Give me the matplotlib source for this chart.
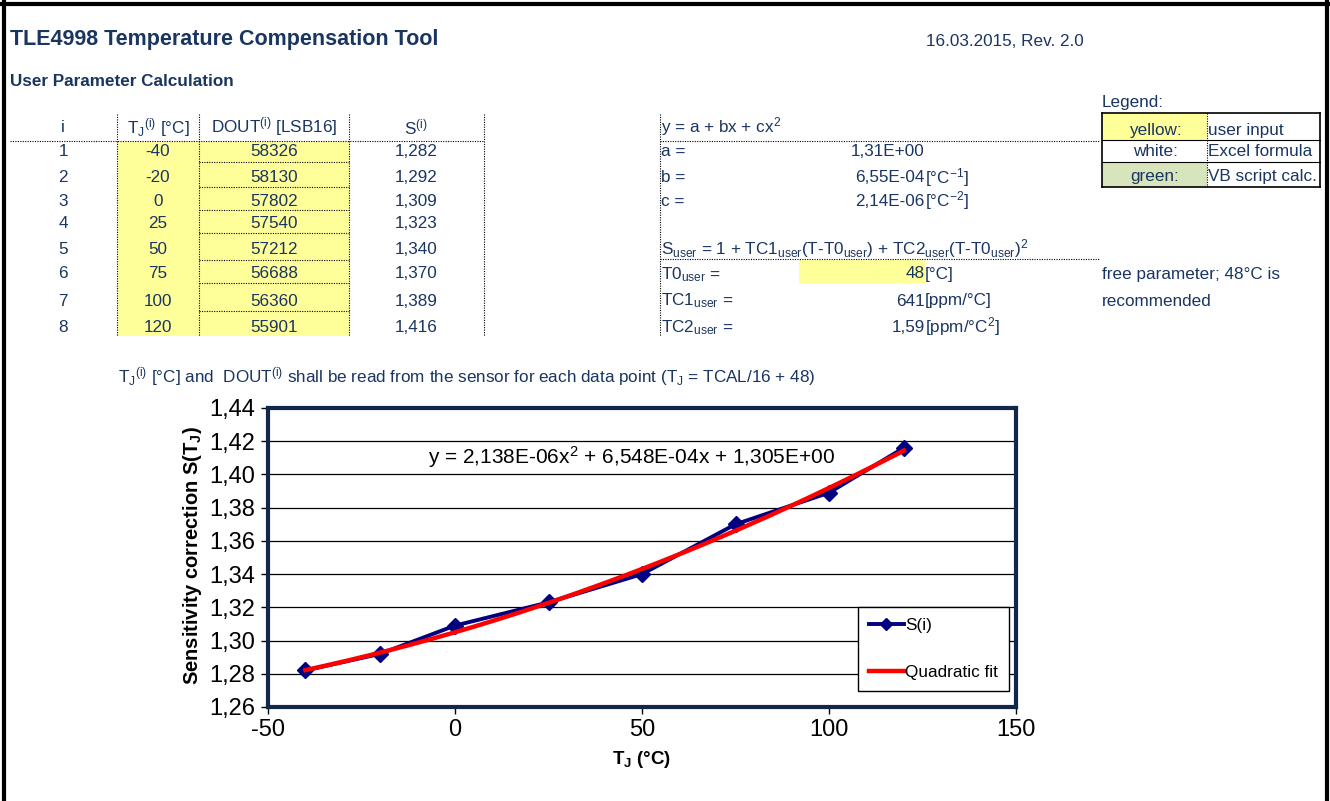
"""TLE4998 temperature compensation sheet, redrawn with matplotlib."""
import matplotlib
matplotlib.use("Agg")
import matplotlib.pyplot as plt
from matplotlib.lines import Line2D
from matplotlib.patches import Rectangle
from matplotlib.ticker import FuncFormatter, MultipleLocator
import numpy as np

# ---------------------------------------------------------------------
# Data
# ---------------------------------------------------------------------
IDX = [1, 2, 3, 4, 5, 6, 7, 8]
TJ = [-40, -20, 0, 25, 50, 75, 100, 120]
DOUT = [58326, 58130, 57802, 57540, 57212, 56688, 56360, 55901]
S = [1.282, 1.292, 1.309, 1.323, 1.340, 1.370, 1.389, 1.416]
FIT_COEF = [2.138e-06, 6.548e-04, 1.305]      # c, b, a of the Excel trendline
FIT_LABEL = "y = 2,138E-06x$^2$ + 6,548E-04x + 1,305E+00"

W, H = 1330, 801
NAVY = "#1A3560"
YELLOW = "#FFFF99"
GREEN = "#D8E4BC"
FRAME = "#10294A"
FS = 12.3      # body text size

plt.rcParams["font.family"] = ["Liberation Sans", "DejaVu Sans"]
plt.rcParams["mathtext.default"] = "regular"
plt.rcParams["axes.unicode_minus"] = False

fig = plt.figure(figsize=(W / 100, H / 100), dpi=100)


def fx(x):
    return x / W


def fy(y):
    return 1 - y / H


def text(x, y, s, size=FS, ha="left", color=NAVY, **kw):
    fig.text(fx(x), fy(y), s, fontsize=size, ha=ha, va="center", color=color, **kw)


def hline(x0, x1, y, dotted=True, lw=0.8, color="black"):
    ls = (0, (1, 1.2)) if dotted else "-"
    fig.add_artist(Line2D([fx(x0), fx(x1)], [fy(y), fy(y)], lw=lw, ls=ls, color=color))


def vline(x, y0, y1, dotted=True, lw=0.8, color="black"):
    ls = (0, (1, 1.2)) if dotted else "-"
    fig.add_artist(Line2D([fx(x), fx(x)], [fy(y0), fy(y1)], lw=lw, ls=ls, color=color))


def rect(x0, y0, x1, y1, color):
    fig.add_artist(Rectangle((fx(x0), fy(y1)), fx(x1 - x0), (y1 - y0) / H,
                             facecolor=color, edgecolor="none", zorder=0))


# page border
for xx, yy in [((4, 4), (0, H)), ((0, W), (4, 4)), ((1327, 1327), (0, H))]:
    fig.add_artist(Line2D([fx(v) for v in xx], [fy(v) for v in yy], lw=3, color="black"))

# header
text(10, 40, "TLE4998 Temperature Compensation Tool", size=15.5, weight="bold")
text(926, 41, "16.03.2015, Rev. 2.0")
text(10, 81, "User Parameter Calculation", size=12.3, weight="bold")

# ---------------------------------------------------------------------
# Table of measured points
# ---------------------------------------------------------------------
ROW_Y = [152, 178, 201, 223, 250, 274, 301, 327]
rect(117, 141, 349, 336, YELLOW)
for x in [117, 199, 349, 484]:
    vline(x, 114, 336)
hline(10, 484, 141)
for y in [162, 187, 210, 233, 260, 283, 311]:
    hline(199, 349, y)

text(63, 128, "i", ha="center")
text(158, 128, "T$_J$$^{(i)}$ [°C]", ha="center")
text(274, 127, "DOUT$^{(i)}$ [LSB16]", ha="center")
text(416, 127, "S$^{(i)}$", ha="center")
for y, i, t, d, s in zip(ROW_Y, IDX, TJ, DOUT, S):
    text(63, y, str(i), ha="center")
    text(158, y, str(t), ha="center")
    text(274, y, str(d), ha="center")
    text(416, y, f"{s:.3f}".replace(".", ","), ha="center")

# ---------------------------------------------------------------------
# Fit coefficients / user parameters
# ---------------------------------------------------------------------
vline(660, 114, 336)
hline(660, 1100, 141)
hline(660, 1100, 259)
rect(799, 260, 925, 283, YELLOW)
text(661, 127, "y = a + bx + cx$^2$")
text(661, 152, "a =")
text(661, 178, "b =")
text(661, 201, "c =")
text(925, 152, "1,31E+00", ha="right")
text(925, 178, "6,55E-04", ha="right")
text(925, 178, "[°C$^{-1}$]")
text(925, 201, "2,14E-06", ha="right")
text(925, 201, "[°C$^{-2}$]")
text(661, 249, "S$_{user}$ = 1 + TC1$_{user}$(T-T0$_{user}$) + TC2$_{user}$(T-T0$_{user}$)$^2$")
text(661, 275, "T0$_{user}$ =")
text(661, 301, "TC1$_{user}$ =")
text(661, 328, "TC2$_{user}$ =")
text(925, 274, "48", ha="right")
text(925, 274, "[°C]")
text(925, 301, "641", ha="right")
text(925, 301, "[ppm/°C]")
text(925, 327, "1,59", ha="right")
text(925, 327, "[ppm/°C$^2$]")
text(1102, 274, "free parameter; 48°C is")
text(1102, 301, "recommended")

# colour legend box
text(1102, 103, "Legend:")
rect(1102, 113, 1207, 140, YELLOW)
rect(1102, 162, 1207, 187, GREEN)
for y in [113, 140, 162, 187]:
    hline(1102, 1320, y, dotted=False, lw=1.2 if y in (113, 187) else 0.8)
vline(1102, 113, 187, dotted=False, lw=1.2)
vline(1320, 113, 187, dotted=False, lw=1.2)
vline(1207, 113, 187)
text(1155, 130, "yellow:", ha="center")
text(1155, 152, "white:", ha="center")
text(1155, 177, "green:", ha="center")
text(1208, 130, "user input")
text(1208, 152, "Excel formula")
text(1208, 177, "VB script calc.")

text(118, 377, "T$_J$$^{(i)}$ [°C] and  DOUT$^{(i)}$ shall be read from the sensor "
     "for each data point (T$_J$ = TCAL/16 + 48)")

# ---------------------------------------------------------------------
# Chart
# ---------------------------------------------------------------------
ax = fig.add_axes([fx(268), fy(707), fx(1016 - 268), (707 - 408) / H])
xs = np.linspace(min(TJ), max(TJ), 200)
ax.plot(TJ, S, color="#000080", lw=2.8, marker="D", markersize=8.5,
        label="S(i)", zorder=3)
ax.plot(xs, np.polyval(FIT_COEF, xs), color="#FF0000", lw=3.2,
        label="Quadratic fit", zorder=4)

ax.set_xlim(-50, 150)
ax.set_ylim(1.26, 1.44)
ax.xaxis.set_major_locator(MultipleLocator(50))
ax.yaxis.set_major_locator(MultipleLocator(0.02))
ax.yaxis.set_major_formatter(FuncFormatter(lambda v, _: f"{v:.2f}".replace(".", ",")))
ax.tick_params(labelsize=17, length=5, width=1, color="black", pad=4)
ax.grid(axis="y", color="black", lw=0.9)
ax.set_axisbelow(True)
for sp in ax.spines.values():
    sp.set_color(FRAME)
    sp.set_linewidth(3)

leg = ax.legend(loc="lower right", bbox_to_anchor=(0.991, 0.054), borderaxespad=0,
                fontsize=12.3, handlelength=2.0, handletextpad=0.1, labelspacing=1.85,
                fancybox=False, framealpha=1, edgecolor="black", borderpad=0.65)
leg.get_frame().set_linewidth(1)
for h in leg.legend_handles:
    h.set_markersize(6)

fig.text(fx(632), fy(457), FIT_LABEL, fontsize=15, ha="center", va="center",
         color="black")
fig.text(fx(193), fy(555), "Sensitivity correction S(T$_J$)", rotation=90,
         fontsize=14.5, weight="bold", ha="center", va="center", color="black")
fig.text(fx(642), fy(760), "T$_J$ (°C)", fontsize=13.5, weight="bold",
         ha="center", va="center", color="black")

fig.savefig("out.png", dpi=100)
